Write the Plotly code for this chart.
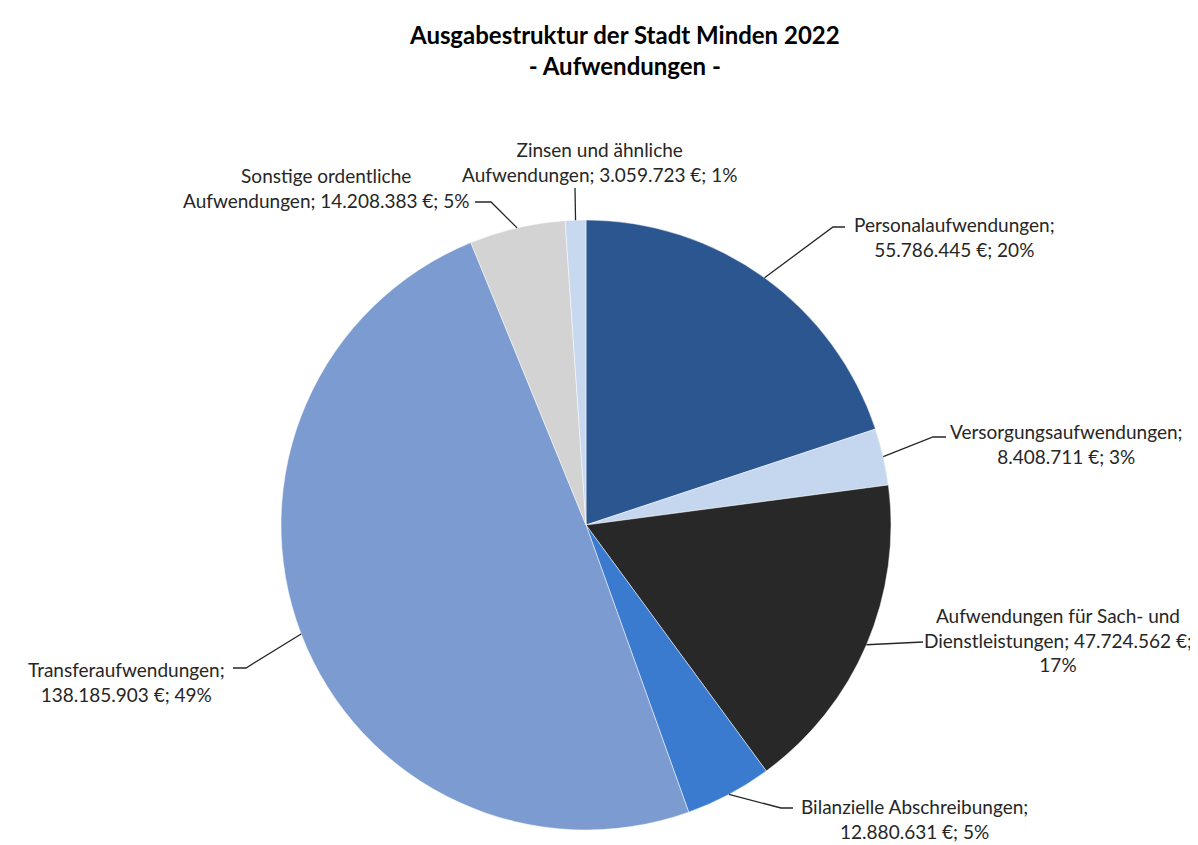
import math
import plotly.graph_objects as go

# ---- data ----
categories = [
    "Personalaufwendungen",
    "Versorgungsaufwendungen",
    "Aufwendungen für Sach- und Dienstleistungen",
    "Bilanzielle Abschreibungen",
    "Transferaufwendungen",
    "Sonstige ordentliche Aufwendungen",
    "Zinsen und ähnliche Aufwendungen",
]
values = [55786445, 8408711, 47724562, 12880631, 138185903, 14208383, 3059723]
label_texts = [
    "Personalaufwendungen;<br>55.786.445 €; 20%",
    "Versorgungsaufwendungen;<br>8.408.711 €; 3%",
    "Aufwendungen für Sach- und<br>Dienstleistungen; 47.724.562 €;<br>17%",
    "Bilanzielle Abschreibungen;<br>12.880.631 €; 5%",
    "Transferaufwendungen;<br>138.185.903 €; 49%",
    "Sonstige ordentliche<br>Aufwendungen; 14.208.383 €; 5%",
    "Zinsen und ähnliche<br>Aufwendungen; 3.059.723 €; 1%",
]
colors = ["#2B5690", "#C4D7EF", "#282828", "#3B7BCF", "#7C9CD1", "#D3D3D3", "#C8D8EE"]

# ---- layout (pixels) ----
W, H = 1198, 845
CX, CY, R = 578, 517, 305
# leader-line elbow and end points, label centres (px)
elbows = [(825, 219), (925, 429), None, (773, 800), (238, 660), (483, 194), None]
ends = [(837, 219), (938, 429), (915, 634), (785, 800), (225, 660), (467, 194), (567, 180)]
label_pos = [(946, 229), (1058, 436), (1050, 632), (906, 811), (118, 674), (318, 180), (591, 154)]
LABEL_FONT = 19

def px(x):
    return x / W

def py(y):
    return 1 - y / H

fig = go.Figure(go.Pie(
    labels=categories,
    values=values,
    sort=False,
    direction="clockwise",
    rotation=0,
    marker=dict(colors=colors, line=dict(color="rgba(255,255,255,0.6)", width=0.8)),
    textinfo="none",
    hoverinfo="label+value+percent",
    domain=dict(x=[px(CX - R), px(CX + R)], y=[py(CY + R), py(CY - R)]),
    showlegend=False,
))

total = sum(values)
cum = 0.0
shapes = []
annotations = []
for i, v in enumerate(values):
    mid = (cum + v / 2) / total * 2 * math.pi
    cum += v
    sx = CX + R * math.sin(mid)
    sy = CY - R * math.cos(mid)
    pts = [(sx, sy)]
    if elbows[i] is not None:
        pts.append(elbows[i])
    pts.append(ends[i])
    path = "M " + " L ".join(f"{px(a):.5f},{py(b):.5f}" for a, b in pts)
    shapes.append(dict(type="path", xref="paper", yref="paper", path=path,
                       line=dict(color="#262626", width=1.3)))
    annotations.append(dict(
        text=label_texts[i], xref="paper", yref="paper",
        x=px(label_pos[i][0]), y=py(label_pos[i][1]),
        xanchor="center", yanchor="middle", align="center",
        showarrow=False, borderpad=0,
        font=dict(family="Lato, Open Sans, sans-serif", size=LABEL_FONT, color="#262626"),
    ))

annotations.append(dict(
    text="<b>Ausgabestruktur der Stadt Minden 2022<br>- Aufwendungen -</b>",
    xref="paper", yref="paper", x=px(616), y=py(42), xanchor="center", yanchor="middle",
    showarrow=False, align="center",
    font=dict(family="Lato, Open Sans, sans-serif", size=24, color="#000000"),
))

fig.update_layout(
    width=W, height=H,
    margin=dict(l=0, r=0, t=0, b=0),
    paper_bgcolor="white", plot_bgcolor="white",
    shapes=shapes, annotations=annotations,
)
fig.write_html("out.html")
